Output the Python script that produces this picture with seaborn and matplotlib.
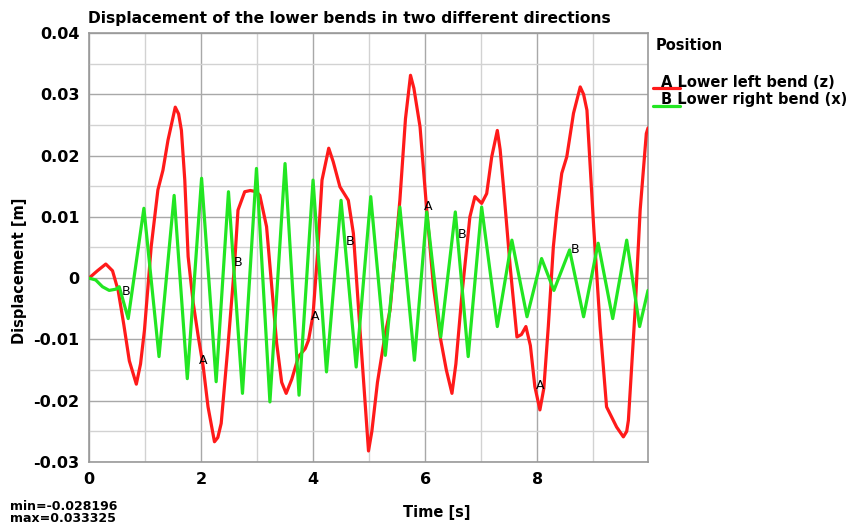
import matplotlib
matplotlib.use("Agg")
import matplotlib.pyplot as plt
from matplotlib.lines import Line2D
from matplotlib.ticker import MultipleLocator
import pandas as pd
import seaborn as sns

# --- data ---
time_a = [0.0, 0.15, 0.3, 0.42, 0.52, 0.62, 0.72, 0.845, 0.92, 0.99, 1.11, 1.23, 1.32, 1.41,
          1.54, 1.60, 1.65, 1.71, 1.77, 1.86, 1.95, 2.04, 2.125, 2.24, 2.30, 2.36, 2.48, 2.60,
          2.66, 2.78, 2.88, 2.99, 3.05, 3.17, 3.35, 3.44, 3.52, 3.62, 3.74, 3.86, 3.92, 4.0,
          4.08, 4.16, 4.28, 4.36, 4.48, 4.63, 4.72, 4.85, 4.99, 5.05, 5.15, 5.29, 5.375, 5.55,
          5.65, 5.74, 5.80, 5.91, 6.03, 6.15, 6.27, 6.38, 6.48, 6.55, 6.66, 6.80, 6.89, 7.01,
          7.10, 7.19, 7.29, 7.34, 7.40, 7.52, 7.64, 7.72, 7.80, 7.88, 7.96, 8.05, 8.12, 8.20,
          8.29, 8.35, 8.44, 8.53, 8.65, 8.77, 8.83, 8.89, 9.01, 9.125, 9.24, 9.42, 9.54, 9.60,
          9.63, 9.75, 9.84, 9.95, 9.98]
disp_a = [0.0, 0.0012, 0.0023, 0.0012, -0.002, -0.0075, -0.0135, -0.0173, -0.014, -0.0085,
          0.0051, 0.0144, 0.0176, 0.0225, 0.0279, 0.0268, 0.0241, 0.016, 0.0035, -0.004,
          -0.0095, -0.0145, -0.021, -0.0267, -0.026, -0.0237, -0.0112, 0.0024, 0.0111, 0.0141,
          0.0143, 0.0141, 0.0135, 0.0084, -0.0106, -0.017, -0.0188, -0.0165, -0.0128, -0.0115,
          -0.0101, -0.006, 0.004, 0.016, 0.0212, 0.019, 0.0149, 0.0127, 0.0073, -0.010,
          -0.0282, -0.025, -0.017, -0.009, -0.0052, 0.0127, 0.026, 0.0331, 0.031, 0.0247,
          0.0111, -0.0014, -0.0096, -0.015, -0.0188, -0.014, -0.0025, 0.010, 0.0133, 0.0122,
          0.0138, 0.0198, 0.0241, 0.021, 0.0149, 0.0018, -0.0096, -0.0092, -0.0079, -0.011,
          -0.0177, -0.0215, -0.018, -0.0079, 0.0051, 0.0106, 0.0171, 0.0198, 0.0269, 0.0312,
          0.030, 0.0274, 0.0084, -0.0079, -0.021, -0.0243, -0.0259, -0.025, -0.0232, -0.0052,
          0.0111, 0.0236, 0.0245]

time_b = [0.0, 0.12, 0.24, 0.36, 0.48, 0.54, 0.70, 0.98, 1.25, 1.52, 1.755, 2.01, 2.27, 2.49,
          2.74, 2.99, 3.23, 3.50, 3.75, 4.0, 4.24, 4.50, 4.77, 5.03, 5.29, 5.55, 5.81, 6.03,
          6.28, 6.54, 6.77, 7.01, 7.29, 7.55, 7.82, 8.08, 8.30, 8.58, 8.83, 9.09, 9.35, 9.60,
          9.83, 9.98]
disp_b = [0.0, -0.0003, -0.0014, -0.002, -0.0018, -0.0014, -0.0066, 0.0114, -0.0128, 0.0135,
          -0.0164, 0.0163, -0.0169, 0.0141, -0.0188, 0.0179, -0.0202, 0.0187, -0.0191, 0.016,
          -0.0153, 0.0127, -0.0145, 0.0133, -0.0126, 0.0116, -0.0134, 0.0108, -0.0096, 0.0108,
          -0.0128, 0.0116, -0.0079, 0.0062, -0.0063, 0.0032, -0.002, 0.0046, -0.0063, 0.0057,
          -0.0066, 0.0062, -0.0079, -0.002]

# curve tags
tag_a_t = [2.04, 4.04, 6.05, 8.05]
tag_a_y = [-0.0135, -0.0062, 0.0117, -0.0175]
tag_b_t = [0.66, 2.66, 4.66, 6.66, 8.68]
tag_b_y = [-0.0021, 0.0026, 0.0060, 0.0072, 0.0046]

yticks = [0.04, 0.03, 0.02, 0.01, 0.0, -0.01, -0.02, -0.03]
ytick_labels = ["0.04", "0.03", "0.02", "0.01", "0", "-0.01", "-0.02", "-0.03"]
xticks = [0, 2, 4, 6, 8]

red = "#ff1a1a"
green = "#22e622"

sns.set_style("white")
plt.rcParams["font.family"] = ["DejaVu Sans"]
plt.rcParams["text.color"] = "black"

fig = plt.figure(figsize=(8.61, 5.26), dpi=100)
ax = fig.add_axes([89 / 861, 1 - 462 / 526, 559 / 861, 429 / 526])

df_a = pd.DataFrame({"t": time_a, "d": disp_a})
df_b = pd.DataFrame({"t": time_b, "d": disp_b})
sns.lineplot(data=df_a, x="t", y="d", ax=ax, color=red, lw=2.3, sort=False, zorder=3,
             solid_joinstyle="round")
sns.lineplot(data=df_b, x="t", y="d", ax=ax, color=green, lw=2.3, sort=False, zorder=4,
             solid_joinstyle="round")

for t, y in zip(tag_a_t, tag_a_y):
    ax.text(t, y, "A", fontsize=9, ha="center", va="center", zorder=5)
for t, y in zip(tag_b_t, tag_b_y):
    ax.text(t, y, "B", fontsize=9, ha="center", va="center", zorder=5)

ax.set_xlim(0, 9.98)
ax.set_ylim(-0.03, 0.04)
ax.set_xticks(xticks)
ax.set_xticklabels([str(v) for v in xticks], fontweight="bold", fontsize=11.5)
ax.set_yticks(yticks)
ax.set_yticklabels(ytick_labels, fontweight="bold", fontsize=11.5)
ax.xaxis.set_minor_locator(MultipleLocator(1))
ax.yaxis.set_minor_locator(MultipleLocator(0.005))
ax.grid(True, which="major", color="#a8a8a8", lw=1)
ax.grid(True, which="minor", color="#d2d2d2", lw=1)
ax.tick_params(which="major", length=5, color="#888888", labelcolor="black",
               direction="out", pad=2)
ax.tick_params(which="minor", length=3, color="#aaaaaa", direction="out")
for s in ax.spines.values():
    s.set_color("#999999")
    s.set_linewidth(1.2)
ax.set_xlabel("")
ax.set_ylabel("")

fig.text(88 / 861, 1 - 18 / 526, "Displacement of the lower bends in two different directions",
         fontsize=11.2, fontweight="bold", va="center", ha="left")
fig.text(20 / 861, 1 - 271 / 526, "Displacement [m]", fontsize=10.5, fontweight="bold",
         rotation=90, va="center", ha="center")
fig.text(437 / 861, 1 - 513 / 526, "Time [s]", fontsize=10.5, fontweight="bold",
         va="center", ha="center")
fig.text(10 / 861, 1 - 507 / 526, "min=-0.028196", fontsize=9, fontweight="bold",
         va="center", ha="left")
fig.text(10 / 861, 1 - 519 / 526, "max=0.033325", fontsize=9, fontweight="bold",
         va="center", ha="left")

# legend drawn by hand
fig.text(656 / 861, 1 - 45 / 526, "Position", fontsize=10.5, fontweight="bold",
         va="center", ha="left")
fig.add_artist(Line2D([653 / 861, 680 / 861], [1 - 88 / 526, 1 - 88 / 526], color=red, lw=2.3))
fig.add_artist(Line2D([653 / 861, 680 / 861], [1 - 106 / 526, 1 - 106 / 526], color=green, lw=2.3))
fig.text(661 / 861, 1 - 87 / 526, "A Lower left bend (z)", fontsize=10.5, fontweight="bold",
         va="baseline", ha="left")
fig.text(661 / 861, 1 - 104 / 526, "B Lower right bend (x)", fontsize=10.5, fontweight="bold",
         va="baseline", ha="left")

fig.savefig("out.png", dpi=100)
